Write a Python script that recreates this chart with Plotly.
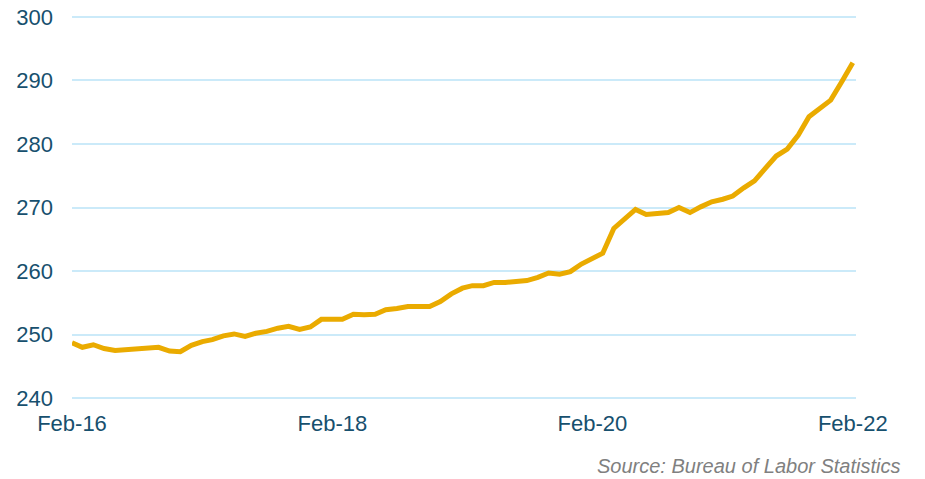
import pandas as pd
import plotly.graph_objects as go

# Monthly dates Feb-2016 .. Feb-2022
months = pd.date_range("2016-02-01", "2022-02-01", freq="MS")

values = [
    248.7, 248.0, 248.4, 247.8, 247.5, 247.6, 247.7, 247.9, 248.0, 247.4,
    247.3, 248.3, 248.9, 249.2, 249.8, 250.1, 249.7, 250.2, 250.5, 251.0,
    251.3, 250.8, 251.2, 252.4, 252.3, 252.4, 253.2, 253.1, 253.2, 253.9,
    254.1, 254.4, 254.4, 254.4, 255.2, 256.4, 257.3, 257.7, 257.7, 258.2,
    258.2, 258.4, 258.5, 259.0, 259.7, 259.5, 259.9, 261.1, 261.9, 262.8,
    266.7, 268.3, 269.7, 268.9, 269.1, 269.2, 270.0, 269.2, 270.1, 270.9,
    271.3, 271.8, 273.1, 274.2, 276.2, 278.1, 279.2, 281.4, 284.3, 285.6,
    286.9, 289.8, 292.8,
]

x_tick_vals = ["2016-02-01", "2018-02-01", "2020-02-01", "2022-02-01"]
x_tick_text = ["Feb-16", "Feb-18", "Feb-20", "Feb-22"]
y_tick_vals = [240, 250, 260, 270, 280, 290, 300]

source_text = "Source: Bureau of Labor Statistics"

FONT = "Liberation Sans, Arial, sans-serif"
TICK_COLOR = "#17506e"

fig = go.Figure()
fig.add_trace(go.Scatter(
    x=list(months), y=values, mode="lines",
    line=dict(color="#EAAB00", width=5),
    hoverinfo="skip", showlegend=False, cliponaxis=False,
))

fig.update_layout(
    width=917, height=471,
    margin=dict(l=64, r=69, t=7, b=79, autoexpand=False),
    paper_bgcolor="white", plot_bgcolor="white",
    font=dict(family=FONT, size=22, color=TICK_COLOR),
    xaxis=dict(
        type="date", automargin=False,
        range=["2016-02-01", "2022-02-10"],
        tickvals=x_tick_vals, ticktext=x_tick_text,
        showgrid=False, zeroline=False, showline=False,
        ticks="", ticklabelstandoff=8, ticklabeloverflow="allow",
        tickfont=dict(family=FONT, size=22, color=TICK_COLOR),
    ),
    yaxis=dict(
        range=[239.7, 300.3], automargin=False,
        tickvals=y_tick_vals,
        showgrid=True, gridcolor="#CBEAF9", gridwidth=1.5,
        zeroline=False, showline=False, ticks="",
        ticklabelstandoff=18, ticklabeloverflow="allow",
        tickfont=dict(family=FONT, size=22, color=TICK_COLOR),
    ),
    annotations=[dict(
        text="<i>" + source_text + "</i>", xref="paper", yref="paper",
        x=1.06, y=-0.172, xanchor="right", yanchor="middle",
        showarrow=False,
        font=dict(family=FONT, size=20, color="#808080"),
    )],
)

fig.write_html("out.html")
